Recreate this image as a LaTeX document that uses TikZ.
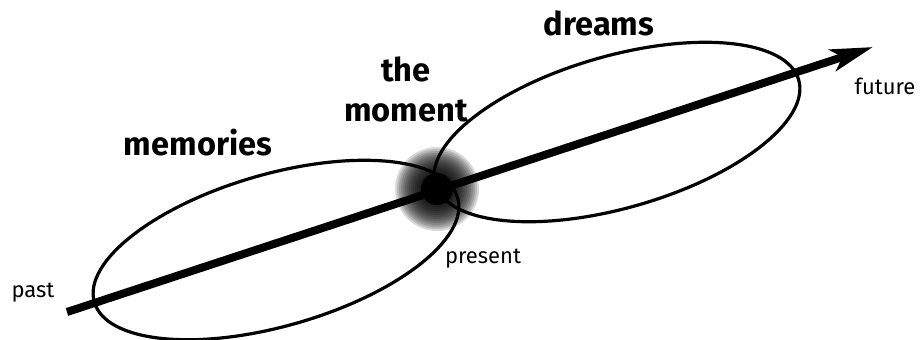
\documentclass[tikz,border=0pt]{standalone}
\usepackage{fontspec}
\setmainfont{Fira Sans}
\usetikzlibrary{arrows.meta, positioning, shapes.geometric}

\begin{document}
\begin{tikzpicture}[x=0.5pt, y=-0.5pt,
    lobe/.style={draw, ellipse, line width=1.6pt, minimum width=189pt,
                 minimum height=76pt, inner sep=0pt, rotate=16},
    timeline/.style={-{Stealth[length=21pt, width=11pt, inset=5pt]}, line width=4pt},
    haze/.style={fill=black, opacity=0.15},
    big/.style={font=\fontsize{16.3}{20}\selectfont\bfseries, align=center},
    small/.style={font=\fontsize{11}{13}\selectfont, anchor=base},
]
    \useasboundingbox (0, 0) rectangle (920, 339);

    \coordinate (start) at (67, 312);
    \coordinate (end) at (873, 47);
    \coordinate (now) at (437, 189);

    % blurred present
    \foreach \r in {16,18,...,42}
        \fill[haze] (now) circle (\r);
    \fill (now) circle (16);

    % the two lobes
    \node[lobe] (memlobe) at (276, 250) {};
    \node[lobe] (dreamlobe) at (617, 132) {};

    % time axis
    \draw[timeline] (start) -- (end);

    % === labels ===
    \node[big, anchor=base] (memories) at (198, 155) {memories};
    \node[big] (moment) at (406, 89) {the\\moment};
    \node[big, anchor=base] (dreams) at (599, 35) {dreams};
    \node[small] (past) at (33, 297) {past};
    \node[small] (present) at (483, 263) {present};
    \node[small] (future) at (885, 94) {future};
\end{tikzpicture}
\end{document}
